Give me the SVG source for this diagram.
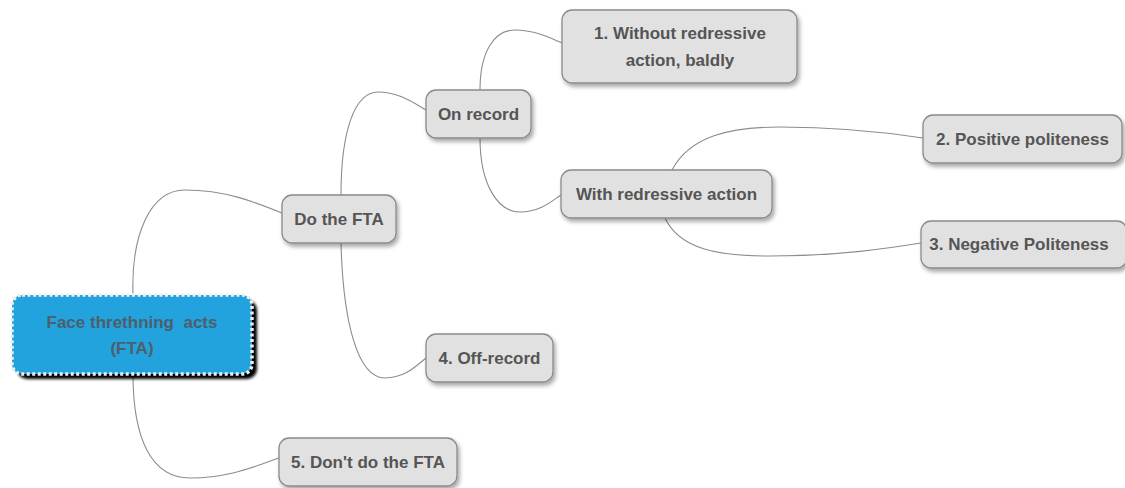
<svg xmlns="http://www.w3.org/2000/svg" width="1125" height="488" viewBox="0 0 1125 488">
<defs>
<style>
.node rect.box{fill:#e1e1e1;stroke:#8a8a8a;stroke-width:1.3;filter:url(#sh)}
.node text{font-family:"Liberation Sans",Arial,sans-serif;font-weight:bold;font-size:17px;fill:#555;text-anchor:middle;dominant-baseline:central}
#connectors path{fill:none;stroke:#8c8c8c;stroke-width:1.1}
</style>
<filter id="sh" x="-20%" y="-30%" width="150%" height="180%">
<feDropShadow dx="2" dy="3" stdDeviation="2" flood-color="#000" flood-opacity="0.35"/>
</filter>
<filter id="blk" x="-10%" y="-20%" width="130%" height="150%">
<feGaussianBlur stdDeviation="1.5"/>
</filter>
</defs>
<rect width="1125" height="488" fill="#fff"/>
<g id="connectors">
<path d="M133,295 C131,235 150,190 185,190 C225,190 255,202 282,213"/>
<path d="M133,374 C133,440 152,478 190,478 C230,478 255,466 279,458"/>
<path d="M341,195 C341,130 355,92 378,92 C400,92 415,104 426,110"/>
<path d="M341,243 C343,320 357,378 385,378 C405,378 416,366 426,358"/>
<path d="M480,90 C480,52 494,30 515,30 C535,30 550,38 562,43"/>
<path d="M480,138 C480,185 498,212 520,212 C540,212 552,201 561,195"/>
<path d="M672,170 C690,136 730,127 780,127 C840,127 890,133 923,138"/>
<path d="M665,218 C680,250 720,256 770,256 C840,256 890,248 921,243"/>
</g>
<g id="root" class="node">
<rect x="17" y="300" width="240" height="79" rx="10" fill="#000" filter="url(#blk)"/>
<rect x="12" y="295" width="240" height="79" rx="10" fill="#22a3dd" stroke="#eeeeee" stroke-width="3.5" stroke-dasharray="3,2.5"/>
<text x="132" y="322" xml:space="preserve" style="fill:#4d5f6c;white-space:pre">Face threthning  acts</text>
<text x="132" y="348" style="fill:#4d5f6c">(FTA)</text>
</g>
<g id="do-fta" class="node">
<rect class="box" x="282" y="195" width="114" height="48" rx="10"/>
<text x="339" y="219">Do the FTA</text>
</g>
<g id="on-record" class="node">
<rect class="box" x="426" y="90" width="105" height="48" rx="10"/>
<text x="478.5" y="114">On record</text>
</g>
<g id="without" class="node">
<rect class="box" x="562" y="10" width="235" height="73" rx="10"/>
<text x="680" y="33">1. Without redressive</text>
<text x="680" y="60">action, baldly</text>
</g>
<g id="with" class="node">
<rect class="box" x="561" y="170" width="211" height="48" rx="10"/>
<text x="666.5" y="194">With redressive action</text>
</g>
<g id="positive" class="node">
<rect class="box" x="923" y="115" width="199" height="48" rx="10"/>
<text x="1022.5" y="139">2. Positive politeness</text>
</g>
<g id="negative" class="node">
<rect class="box" x="921" y="221" width="206" height="47" rx="10"/>
<text x="1019" y="244">3. Negative Politeness</text>
</g>
<g id="off-record" class="node">
<rect class="box" x="426" y="334" width="127" height="48" rx="10"/>
<text x="489.5" y="358">4. Off-record</text>
</g>
<g id="dont" class="node">
<rect class="box" x="279" y="438" width="178" height="48" rx="10"/>
<text x="368" y="462">5. Don't do the FTA</text>
</g>
</svg>
